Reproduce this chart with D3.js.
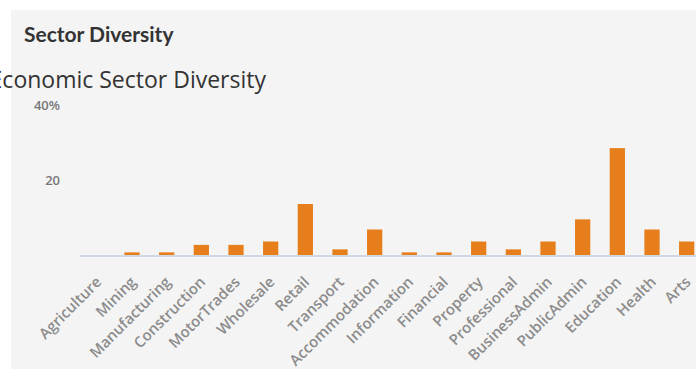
<!DOCTYPE html>
<html>
<head>
<meta charset="utf-8">
<script src="https://cdn.jsdelivr.net/npm/d3@7"></script>
<style>
  html, body { margin: 0; padding: 0; background: #fff; }
  svg { display: block; }
</style>
</head>
<body>
<svg id="chart"></svg>
<script>
// sectors and their share (%)
const sectors = ["Agriculture", "Mining", "Manufacturing", "Construction", "MotorTrades",
  "Wholesale", "Retail", "Transport", "Accommodation", "Information", "Financial",
  "Property", "Professional", "BusinessAdmin", "PublicAdmin", "Education", "Health", "Arts"];
const shares = [0, 0.7, 0.7, 2.7, 2.7, 3.6, 13.6, 1.5, 6.8, 0.7, 0.7, 3.6, 1.5, 3.6, 9.5, 28.5, 6.8, 3.6];
const yTicks = [20, 40];

const width = 696, height = 369;
const data = sectors.map((s, i) => ({ sector: s, value: shares[i] }));

const svg = d3.select("#chart")
    .attr("width", width)
    .attr("height", height)
    .style("font-family", "'Open Sans', sans-serif");

// panel background
svg.append("rect")
    .attr("x", 11).attr("y", 10)
    .attr("width", width - 11).attr("height", height - 10)
    .attr("fill", "#f4f4f4");

svg.append("text")
    .attr("x", 24).attr("y", 42)
    .attr("font-family", "Lato, sans-serif")
    .attr("font-weight", "bold")
    .attr("font-size", 21)
    .attr("fill", "#333")
    .text("Sector Diversity");

svg.append("text")
    .attr("x", 266).attr("y", 88)
    .attr("text-anchor", "end")
    .attr("font-size", 23)
    .attr("fill", "#333")
    .text("Economic Sector Diversity");

const x = d3.scaleBand()
    .domain(sectors)
    .range([80, 704])
    .paddingInner(0.56)
    .paddingOuter(0.28);

const y = d3.scaleLinear()
    .domain([0, 40])
    .range([255, 105]);

// y labels
svg.append("g")
  .selectAll("text")
  .data(yTicks)
  .join("text")
    .attr("x", 60)
    .attr("y", d => y(d))
    .attr("dy", "0.35em")
    .attr("text-anchor", "end")
    .attr("font-size", 13)
    .attr("font-weight", 600)
    .attr("fill", "#777")
    .text(d => d === 40 ? d + "%" : d);

// baseline
svg.append("line")
    .attr("x1", 80).attr("x2", width)
    .attr("y1", y(0) + 1).attr("y2", y(0) + 1)
    .attr("stroke", "#cfd8e0")
    .attr("stroke-width", 2);

svg.append("g")
  .selectAll("rect")
  .data(data)
  .join("rect")
    .attr("x", d => x(d.sector))
    .attr("width", x.bandwidth())
    .attr("y", d => y(d.value))
    .attr("height", d => y(0) - y(d.value))
    .attr("fill", "#e67e1c");

// rotated category labels
svg.append("g")
  .selectAll("text")
  .data(sectors)
  .join("text")
    .attr("transform", d => `translate(${x(d) + x.bandwidth() / 2 + 5},${y(0) + 28}) rotate(-45)`)
    .attr("text-anchor", "end")
    .attr("font-size", 15)
    .attr("font-weight", 600)
    .attr("fill", "#8c8c8c")
    .text(d => d);
</script>
</body>
</html>
